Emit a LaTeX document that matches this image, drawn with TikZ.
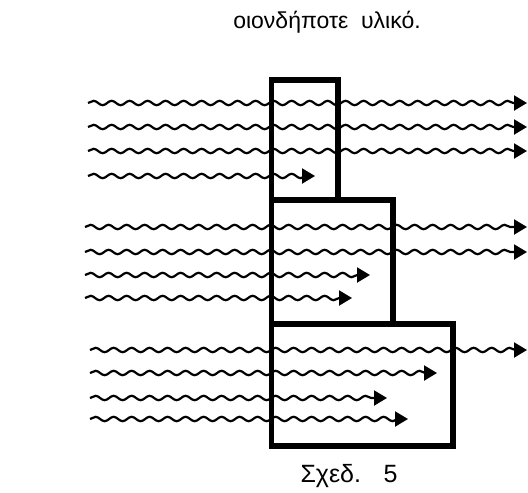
\documentclass[tikz,border=0pt]{standalone}
\usepackage{fontspec}
\setmainfont{Liberation Sans}
\usetikzlibrary{arrows.meta,decorations.pathmorphing}

\tikzset{
  wave/.style={decorate, decoration={snake, amplitude=2.2pt, segment length=18pt, post length=8pt},
    line width=2.2pt, -{Triangle[length=13pt,width=15pt]}},
  slab/.style={line width=5.5pt, line join=miter},
}

\begin{document}
\begin{tikzpicture}[x=1pt,y=-1pt]
    \useasboundingbox (0,0) rectangle (528,493);
    \node[anchor=base] (title) at (327,28) {\fontsize{23}{27}\selectfont οιονδήποτε\hspace{0.55em}υλικό.};

    % rays: start x / height / end x
    \foreach \xa/\y/\xb in {88/103/527, 88/127/527, 88/151/527, 88/176/315,
                            85/227/527, 85/252/527, 85/275/370, 85/298/352,
                            90/350/527, 90/373/437, 90/398/387, 90/419/408}
        \draw[wave] (\xa,\y) -- (\xb,\y);

    % the three slabs
    \draw[slab] (271.5,80) rectangle (338,200);
    \draw[slab] (271.5,200) rectangle (393,324);
    \draw[slab] (271.5,324) rectangle (453,446);

    \node[anchor=base] (caption) at (349,482) {\fontsize{25}{30}\selectfont Σχεδ.\hspace{0.9em}5};
\end{tikzpicture}
\end{document}
